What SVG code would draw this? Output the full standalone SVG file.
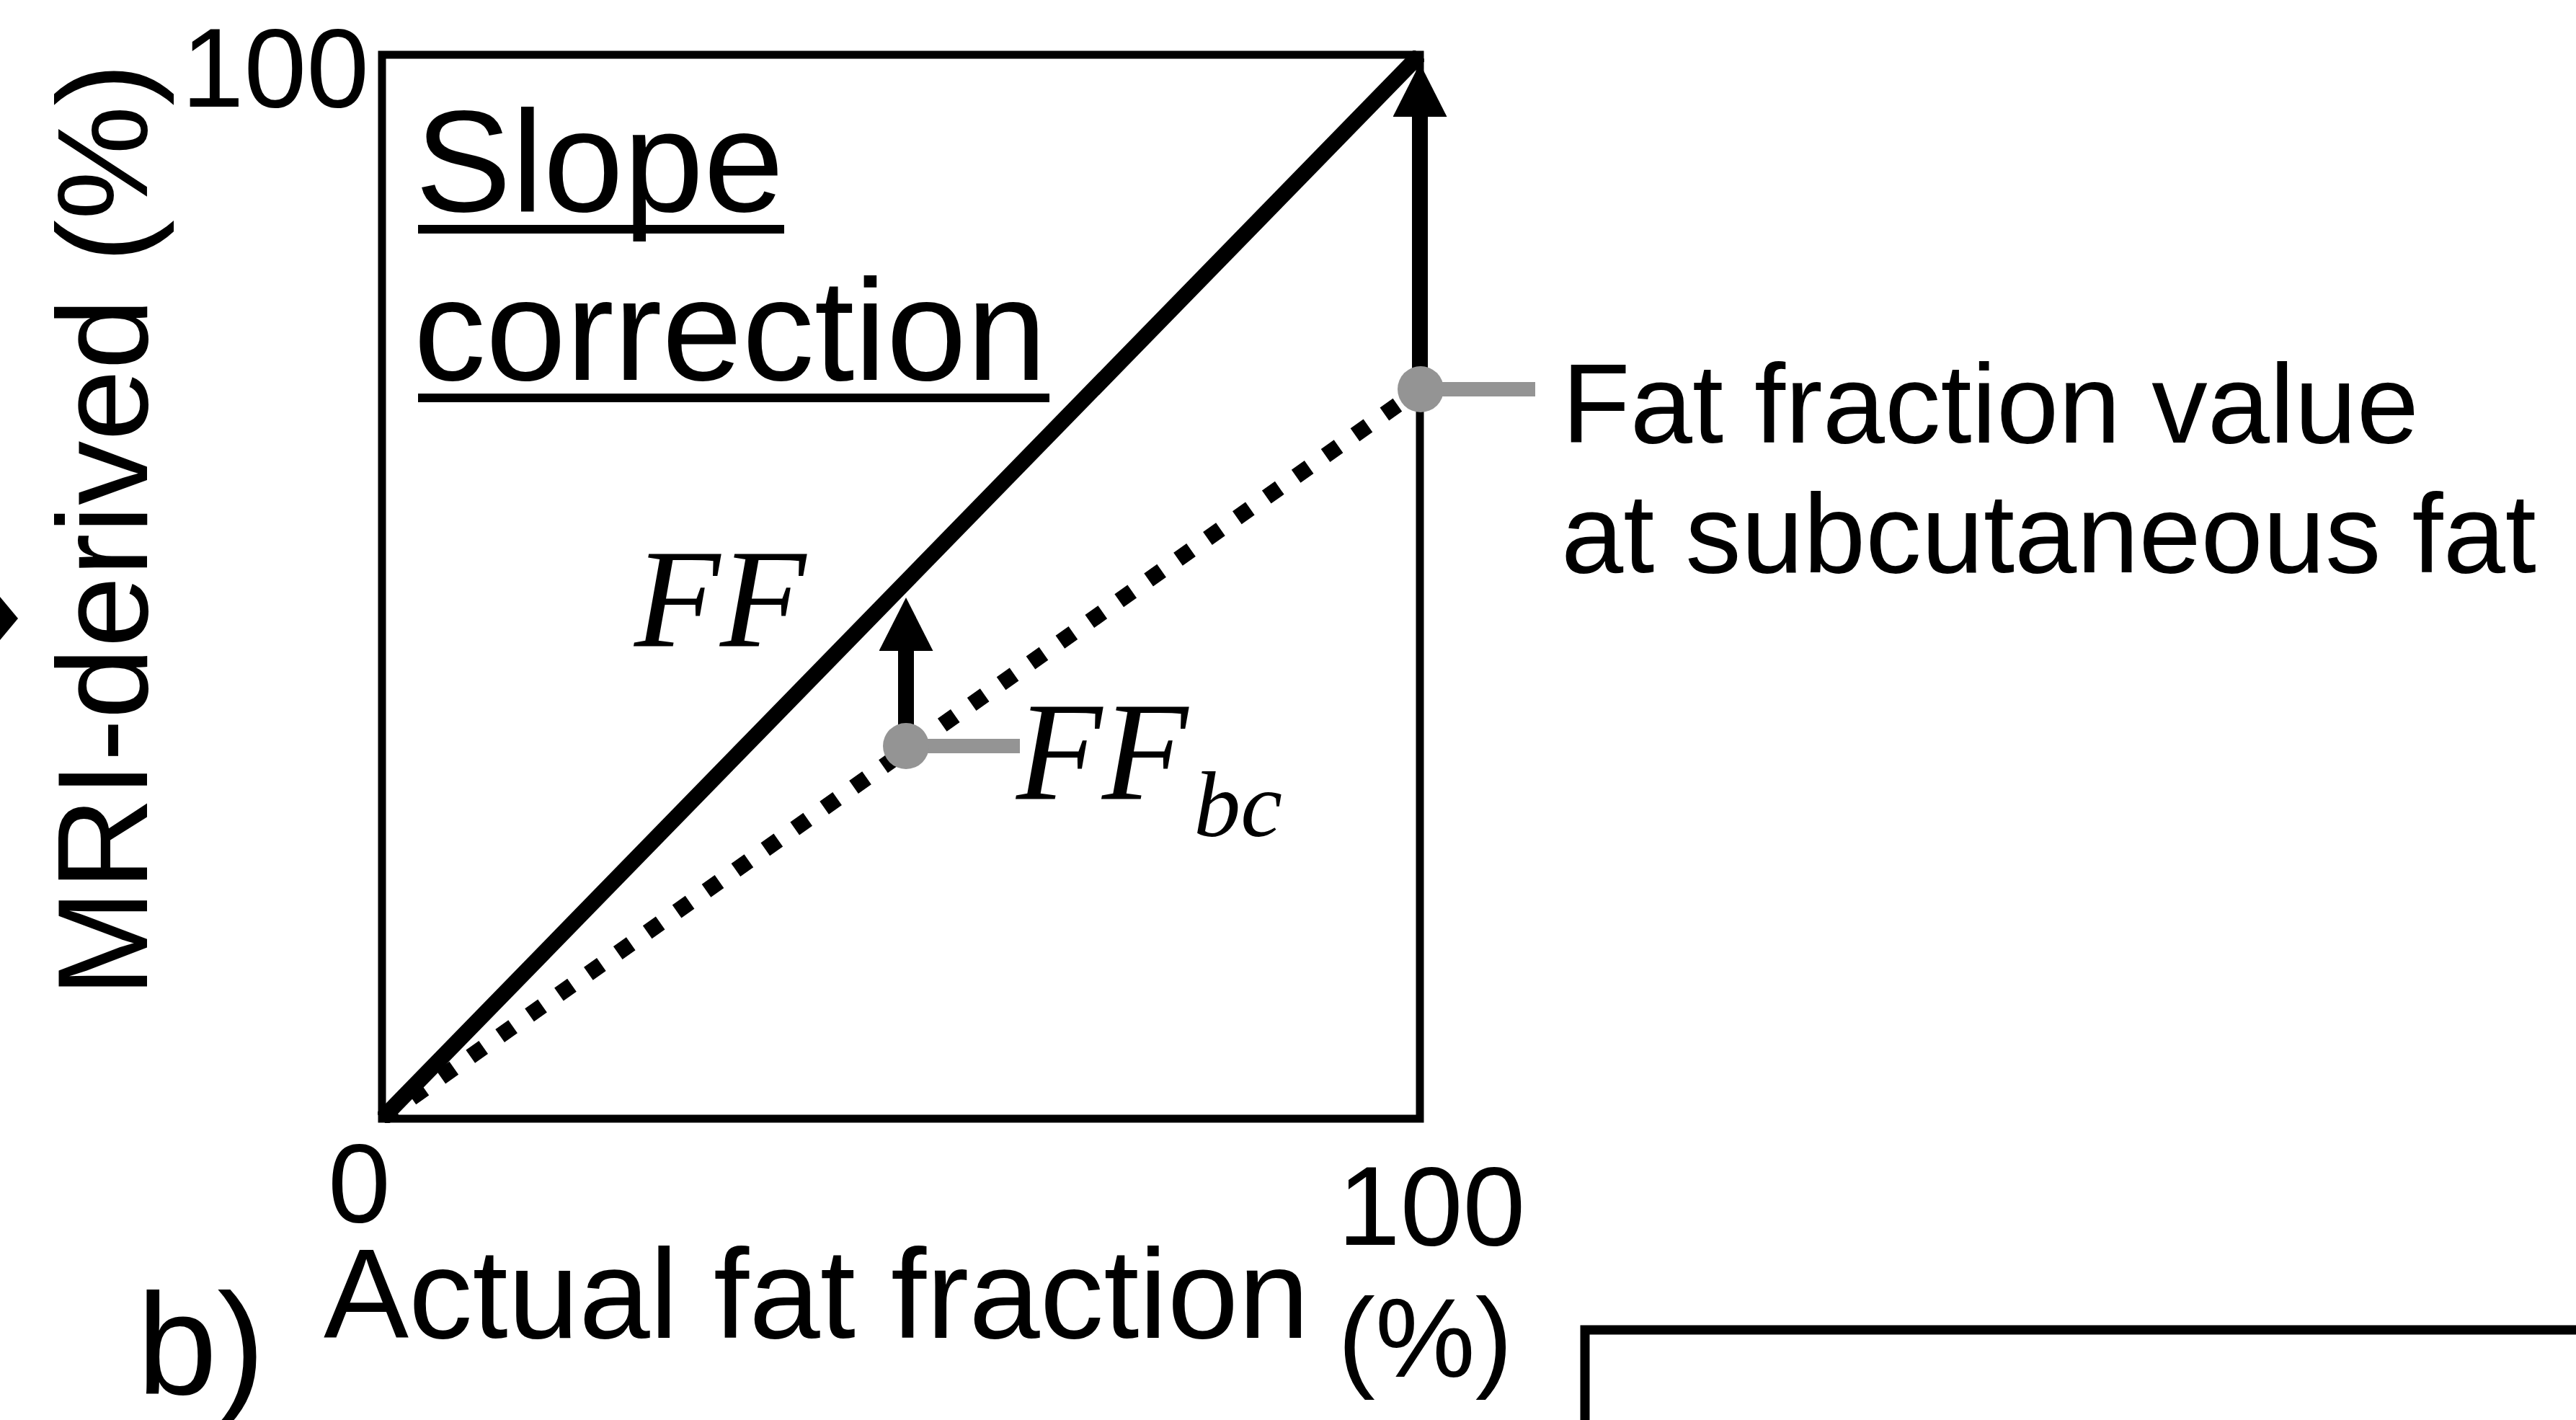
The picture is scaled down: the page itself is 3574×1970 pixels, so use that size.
<svg xmlns="http://www.w3.org/2000/svg" width="3574" height="1970" viewBox="0 0 3574 1970">
<style>
.sans{font-family:"Liberation Sans",Arial,sans-serif;fill:#000}
.it{font-family:"Liberation Serif","Times New Roman",serif;font-style:italic;fill:#000}
.thick{stroke:#000;stroke-width:22;fill:none}
.gray{stroke:#949494;stroke-width:20;fill:none}
.dot{fill:#949494}
</style>
<defs>
<marker id="ah" viewBox="0 0 74 75" refX="1" refY="37.5" markerWidth="74" markerHeight="75" markerUnits="userSpaceOnUse" orient="auto">
<path d="M0,0 L74,37.5 L0,75 z" fill="#000"/>
</marker>
<clipPath id="boxclip"><rect x="524" y="70" width="1452" height="1488"/></clipPath>
</defs>
<rect width="3574" height="1970" fill="#fff"/>
<g id="plot-frame">
<rect x="530" y="76" width="1440" height="1476" fill="none" stroke="#000" stroke-width="11"/>
</g>
<g id="connectors">
<g clip-path="url(#boxclip)">
<line class="thick" x1="530" y1="1552" x2="1970" y2="76"/>
<line x1="530" y1="1552" x2="1970" y2="540" stroke="#000" stroke-width="22" stroke-dasharray="22 28"/>
</g>
<line class="thick" x1="1970" y1="540" x2="1970" y2="161" stroke-width="24" marker-end="url(#ah)"/>
<line class="thick" x1="1257" y1="1035" x2="1257" y2="902" stroke-width="23" marker-end="url(#ah)"/>
<line class="gray" x1="1970" y1="540" x2="2130" y2="540"/>
<line class="gray" x1="1257" y1="1035" x2="1415" y2="1035"/>
</g>
<g id="point-subcutaneous"><circle class="dot" cx="1971" cy="540" r="32"/></g>
<g id="point-ffbc"><circle class="dot" cx="1257" cy="1035" r="32"/></g>
<g id="title">
<text class="sans" x="576" y="293" font-size="200">Slope</text>
<text class="sans" x="574" y="527" font-size="200">correction</text>
<rect x="580" y="312" width="508" height="12"/>
<rect x="580" y="546" width="876" height="12"/>
</g>
<g id="label-ff"><text class="it" x="880" y="896" font-size="195">FF</text></g>
<g id="label-ffbc"><text class="it" x="1410" y="1108" font-size="195">FF<tspan font-size="130" dx="8" dy="52">bc</tspan></text></g>
<g id="label-subcutaneous">
<text class="sans" x="2167" y="614" font-size="155">Fat fraction value</text>
<text class="sans" x="2166" y="794" font-size="155">at subcutaneous fat</text>
</g>
<g id="y-axis">
<text class="sans" x="512" y="148" font-size="156" text-anchor="end">100</text>
<text class="sans" transform="translate(204,1383) rotate(-90)" font-size="178">MRI-derived (%)</text>
</g>
<g id="x-axis">
<text class="sans" x="455" y="1695" font-size="156">0</text>
<text class="sans" x="1856" y="1727" font-size="156">100</text>
<text class="sans" x="1856" y="1910" font-size="156">(%)</text>
<text class="sans" x="449" y="1856" font-size="177">Actual fat fraction</text>
</g>
<g id="panel-b-label"><text class="sans" x="190" y="1934" font-size="200">b)</text></g>
<g id="panel-b-frame"><path d="M2199,1975 V1845 H3580" fill="none" stroke="#000" stroke-width="13"/></g>
<g id="left-edge-mark"><polygon points="0,828 25,858 0,888" fill="#000"/></g>
</svg>
